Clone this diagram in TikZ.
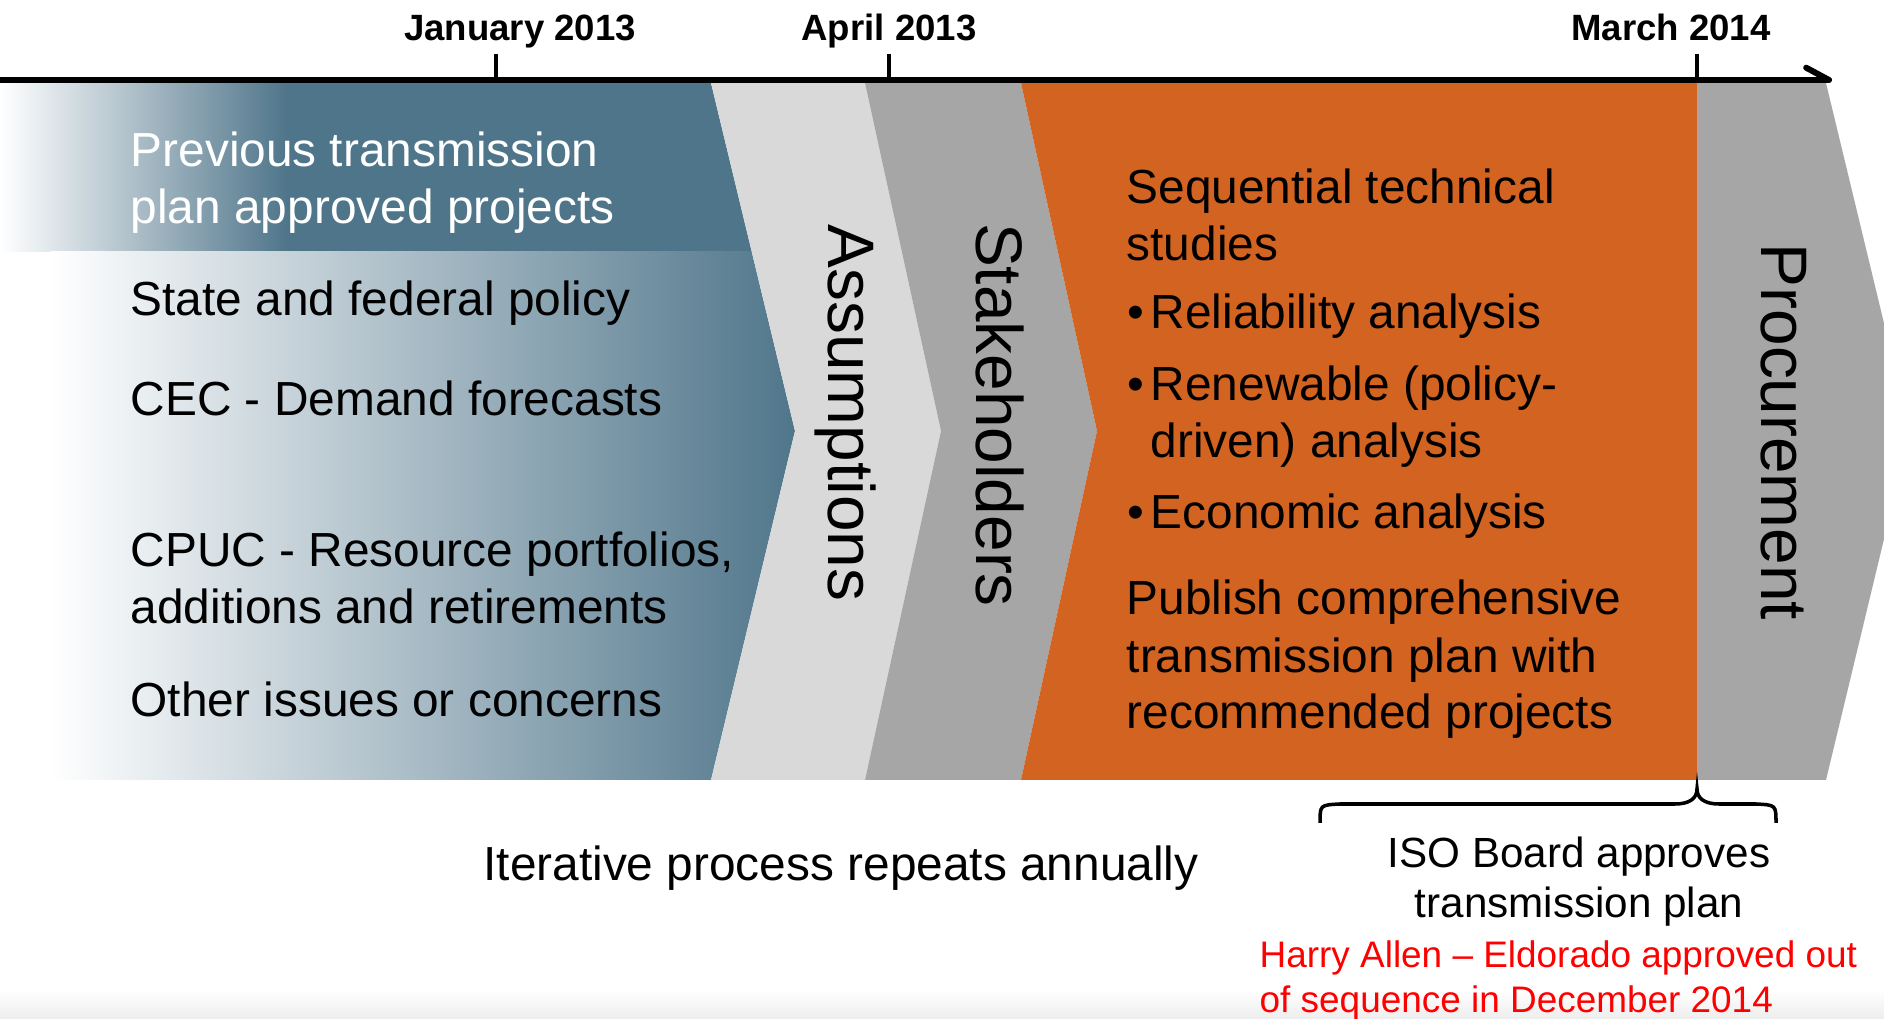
\documentclass[tikz,border=0pt]{standalone}
\usepackage{fontspec}
\setmainfont{Liberation Sans}
\usetikzlibrary{arrows.meta}

\definecolor{steel}{RGB}{79,117,138}
\definecolor{lightgrey}{RGB}{217,217,217}
\definecolor{midgrey}{RGB}{166,166,166}
\definecolor{burnt}{RGB}{210,99,32}

\tikzset{
  basic/.style   = {inner sep=0pt, anchor=base west},
  line/.style    = {basic, font=\fontsize{13.6}{16}\selectfont},
  wline/.style   = {line, text=white},
  phase/.style   = {inner sep=0pt, rotate=-90, font=\fontsize{18.7}{20}\selectfont},
  date/.style    = {inner sep=0pt, anchor=base, font=\fontsize{10.4}{12}\selectfont\bfseries},
  board/.style   = {inner sep=0pt, anchor=base, font=\fontsize{12}{14}\selectfont},
  redline/.style = {basic, text=red, font=\fontsize{10.5}{12}\selectfont}
}

\begin{document}
\begin{tikzpicture}[x=0.01cm, y=-0.01cm]
\clip (0,0) rectangle (1884,1019);
\fill[white] (0,0) rectangle (1884,1019);

% faint shadow along the bottom edge
\shade[top color=white, bottom color=gray!14] (0,990) rectangle (1884,1019);

% first chevron, two shaded bands
\begin{scope}
\clip (0,83) -- (711,83) -- (795,431) -- (711,780) -- (0,780) -- cycle;
\shade[left color=white, right color=steel] (0,83) rectangle (288,252);
\fill[steel] (287,83) rectangle (800,252);
\fill[white] (0,252) rectangle (51,780);
\shade[left color=white, middle color=steel!25, right color=steel] (50,252) rectangle (800,780);
\end{scope}

% the other chevrons
\fill[lightgrey] (711,83) -- (865,83) -- (941,431) -- (865,780) -- (711,780) -- (795,431) -- cycle;
\fill[midgrey] (865,83) -- (1021,83) -- (1097,431) -- (1021,780) -- (865,780) -- (941,431) -- cycle;
\fill[burnt] (1021,83) -- (1697,83) -- (1697,780) -- (1021,780) -- (1097,431) -- cycle;
\fill[midgrey] (1697,83) -- (1826,83) -- (1910,431) -- (1826,780) -- (1697,780) -- cycle;

% time axis
\coordinate (t0) at (0,80);
\coordinate (t1) at (1832,80);
\draw[line width=1.7pt, -{Straight Barb[left, round, length=6.5pt, width=7pt]}] (t0) -- (t1);

\foreach \x/\name/\lab/\lx in {496/jan/January 2013/520, 889/apr/April 2013/889, 1697/mar/March 2014/1671} {
  \draw[line width=1.2pt] (\x,54) -- (\x,80);
  \node[date] (\name) at (\lx,41) {\lab};
}

% input list
\node[wline] (prev1) at (130,167) {Previous transmission};
\node[wline] (prev2) at (130,224) {plan approved projects};
\node[line] (policy) at (130,316) {State and federal policy};
\node[line] (cec) at (130,416) {CEC - Demand forecasts};
\node[line] (cpuc1) at (130,567) {CPUC - Resource portfolios,};
\node[line] (cpuc2) at (130,624) {additions and retirements};
\node[line] (other) at (130,717) {Other issues or concerns};

% phases
\node[phase] (assume) at (845,413) {Assumptions};
\node[phase] (stake) at (1000,415) {Stakeholders};
\node[phase] (procure) at (1784,432) {Procurement};

% studies
\node[line] (seq1) at (1126,204) {Sequential technical};
\node[line] (seq2) at (1126,261) {studies};
\node[line] (rel) at (1150,329) {Reliability analysis};
\node[line] (ren1) at (1150,401) {Renewable (policy-};
\node[line] (ren2) at (1150,458) {driven) analysis};
\node[line] (eco) at (1150,529) {Economic analysis};
\node[line] (pub1) at (1126,615) {Publish comprehensive};
\node[line] (pub2) at (1126,673) {transmission plan with};
\node[line] (pub3) at (1126,729) {recommended projects};

\foreach \n/\y in {rel/329, ren1/401, eco/529}
  \node[line] (dot-\n) at (1127,\y) {\textbullet};

% below the band
\node[line, anchor=base] (iter) at (841,881) {Iterative process repeats annually};

\coordinate (bl) at (1320,823);
\coordinate (br) at (1776,823);
\coordinate (tip) at (1697,789);
\draw[line width=1pt] (bl) .. controls (1320,805) .. (1340,804) -- (1675,804)
  .. controls (1690,804) and (1697,798) .. (tip)
  .. controls (1697,798) and (1704,804) .. (1719,804) -- (1756,804)
  .. controls (1776,805) .. (br);

\node[board] (iso1) at (1579,868) {ISO Board approves};
\node[board] (iso2) at (1579,918) {transmission plan};

\node[redline] (note1) at (1259,968) {Harry Allen – Eldorado approved out};
\node[redline] (note2) at (1259,1013) {of sequence in December 2014};
\end{tikzpicture}
\end{document}
